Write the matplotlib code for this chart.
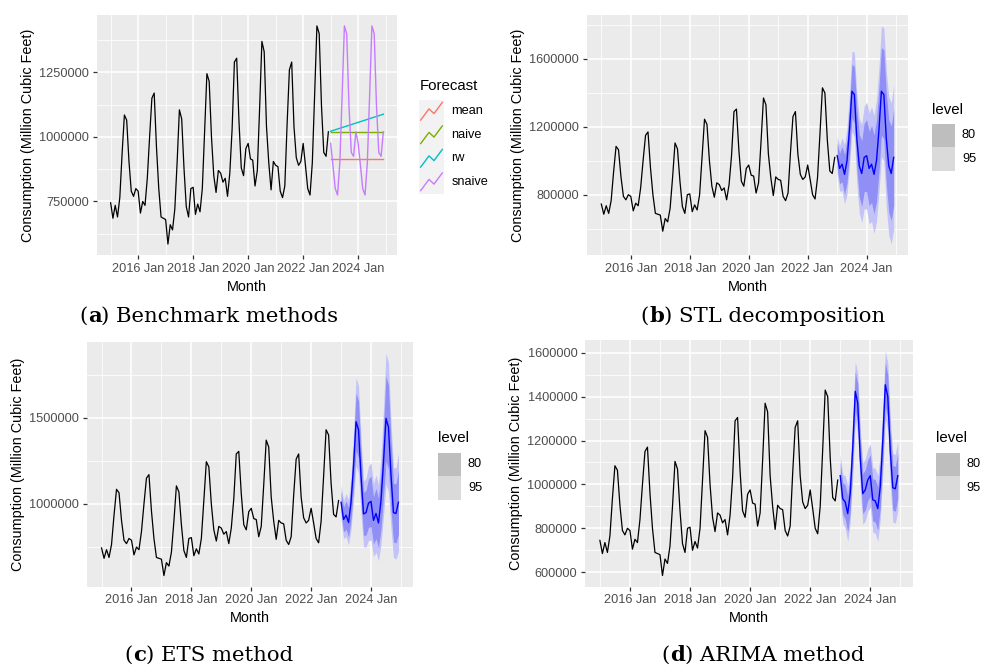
import numpy as np
import matplotlib
matplotlib.use("Agg")
import matplotlib.pyplot as plt
from matplotlib.patches import Rectangle

plt.rcParams['font.family'] = ['Liberation Sans', 'DejaVu Sans']

W, H = 982, 667

# ---------------- data (thousand million cubic feet) ----------------
y2015 = [745, 685, 735, 690, 765, 935, 1085, 1065, 905, 790, 770, 800]
y2016 = [790, 705, 750, 735, 840, 1000, 1150, 1170, 960, 800, 690, 685]
y2017 = [680, 585, 660, 640, 720, 900, 1105, 1070, 880, 730, 690, 800]
y2018 = [805, 700, 740, 710, 800, 1020, 1245, 1215, 1000, 850, 785, 870]
y2019 = [860, 825, 840, 770, 860, 1030, 1290, 1305, 1060, 880, 850, 955]
y2020 = [975, 915, 910, 810, 870, 1110, 1370, 1330, 1040, 900, 795, 905]
y2021 = [890, 885, 790, 765, 810, 1050, 1260, 1290, 1040, 920, 890, 905]
y2022 = [975, 890, 800, 775, 900, 1160, 1430, 1400, 1120, 940, 925, 1020]

# benchmark forecasts (panel a)
mean_level = 915
naive_level = 1020
rw_ends = [1022, 1088]

# STL forecast (panel b)
stl_fc = [1030, 955, 980, 920, 1000, 1180, 1410, 1390, 1130, 970, 925, 1020,
          1030, 955, 980, 920, 1000, 1180, 1410, 1390, 1130, 970, 925, 1020]
stl_hw80 = [74, 90, 104, 117, 130, 144, 158, 167, 177, 186, 194, 202,
            211, 219, 226, 233, 240, 248, 257, 263, 268, 273, 278, 284]
stl_hw95 = [110, 135, 155, 175, 195, 215, 235, 250, 265, 278, 290, 302,
            315, 327, 338, 348, 358, 370, 385, 393, 400, 408, 416, 424]

# ETS forecast (panel c)
ets_fc = [1010, 910, 935, 893, 1010, 1220, 1477, 1430, 1160, 942, 950, 1005,
          1015, 905, 945, 890, 1020, 1240, 1496, 1445, 1170, 950, 945, 1010]
ets_hw80 = [63, 72, 82, 85, 101, 127, 166, 166, 143, 124, 130, 140,
            146, 137, 146, 143, 166, 202, 247, 244, 202, 169, 172, 185]
ets_hw95 = [97, 110, 125, 130, 155, 195, 255, 255, 220, 190, 200, 215,
            225, 210, 225, 220, 255, 310, 380, 375, 310, 260, 265, 285]

# ARIMA forecast (panel d)
arima_fc = [1040, 935, 920, 867, 960, 1170, 1424, 1370, 1120, 958, 975, 1020,
            1040, 930, 925, 890, 990, 1200, 1454, 1400, 1150, 985, 980, 1040]
arima_hw80 = [62, 72, 78, 83, 85, 86, 88, 89, 90, 91, 92, 93,
              95, 96, 97, 98, 98, 99, 100, 100, 101, 102, 102, 103]
arima_hw95 = [95, 110, 120, 127, 130, 132, 135, 137, 139, 140, 141, 142,
              145, 147, 148, 150, 151, 152, 153, 154, 155, 156, 157, 158]

tick_years = [2016, 2018, 2020, 2022, 2024]
tick_labels = ["2016 Jan", "2018 Jan", "2020 Jan", "2022 Jan", "2024 Jan"]
method_names = ["mean", "naive", "rw", "snaive"]
method_colors = ["#F8766D", "#7CAE00", "#00BFC4", "#C77CFF"]
level_names = ["80", "95"]
level_key_colors = ["#BEBEBE", "#DADADA"]
captions = [("a", " Benchmark methods"), ("b", " STL decomposition"),
            ("c", " ETS method"), ("d", " ARIMA method")]

SCALE = 1000
hist = np.array(y2015 + y2016 + y2017 + y2018 + y2019 + y2020 + y2021 + y2022) * SCALE
x_hist = 2015 + np.arange(len(hist)) / 12.0
x_fc = 2023 + np.arange(24) / 12.0

BAND95 = "#C3C3F8"
BAND80 = "#8F8FF6"

fig = plt.figure(figsize=(W / 100, H / 100), dpi=100)


def px_axes(x0, y0, x1, y1):
    return fig.add_axes([x0 / W, 1 - y1 / H, (x1 - x0) / W, (y1 - y0) / H])


def style(ax, ymajor, yminor, lo, hi):
    ax.set_facecolor('#EBEBEB')
    for s in ax.spines.values():
        s.set_visible(False)
    x0, x1 = 2015.0, 2024 + 11 / 12
    ex = (x1 - x0) * 0.05
    ax.set_xlim(x0 - ex, x1 + ex)
    ey = (hi - lo) * 0.05
    ax.set_ylim(lo - ey, hi + ey)
    ax.set_xticks(tick_years)
    ax.set_xticklabels(tick_labels)
    ax.set_xticks([2015, 2017, 2019, 2021, 2023, 2025], minor=True)
    ax.set_yticks(ymajor)
    ax.set_yticklabels([str(int(v)) for v in ymajor])
    ax.set_yticks(yminor, minor=True)
    ax.grid(which='major', color='white', lw=1.1)
    ax.grid(which='minor', color='white', lw=0.55)
    ax.set_axisbelow(True)
    ax.tick_params(which='major', length=3, width=0.9, color='#333333',
                   labelsize=9.2, labelcolor='#4D4D4D', pad=2.5)
    ax.tick_params(which='minor', length=0)
    ax.set_xlabel('Month', fontsize=10.4, labelpad=3.5)
    ax.set_ylabel('Consumption (Million Cubic Feet)', fontsize=10.4, labelpad=3)


# ---------------- panel a ----------------
axa = px_axes(97, 15, 397, 255)
axa.plot(x_hist, hist, color='black', lw=0.9)
axa.plot([x_fc[0], x_fc[-1]], [mean_level * SCALE] * 2, color=method_colors[0], lw=1.0)
axa.plot([x_fc[0], x_fc[-1]], [naive_level * SCALE] * 2, color=method_colors[1], lw=1.0)
axa.plot([x_fc[0], x_fc[-1]], np.array(rw_ends) * SCALE, color=method_colors[2], lw=1.0)
snaive = np.concatenate([hist[-12:], hist[-12:]])
axa.plot(x_fc, snaive, color=method_colors[3], lw=1.0)
style(axa, [750000, 1000000, 1250000], [625000, 875000, 1125000, 1375000],
      hist.min(), hist.max())


def band_panel(ax, fc, hw80, hw95, ymajor, yminor):
    fc = np.array(fc) * SCALE
    h80 = np.array(hw80) * SCALE
    h95 = np.array(hw95) * SCALE
    ax.plot(x_hist, hist, color='black', lw=0.9)
    ax.fill_between(x_fc, fc - h95, fc + h95, color=BAND95, lw=0)
    ax.fill_between(x_fc, fc - h80, fc + h80, color=BAND80, lw=0)
    ax.plot(x_fc, fc, color='#0000FF', lw=1.0)
    lo = min(hist.min(), (fc - h95).min())
    hi = max(hist.max(), (fc + h95).max())
    style(ax, ymajor, yminor, lo, hi)


axb = px_axes(586.7, 15, 908.3, 255)
band_panel(axb, stl_fc, stl_hw80, stl_hw95, [800000, 1200000, 1600000],
           [600000, 1000000, 1400000, 1800000])

axc = px_axes(86.7, 341.7, 413.3, 586.7)
band_panel(axc, ets_fc, ets_hw80, ets_hw95, [1000000, 1500000],
           [750000, 1250000, 1750000])

axd = px_axes(585, 340, 912.7, 586.7)
band_panel(axd, arima_fc, arima_hw80, arima_hw95,
           [600000, 800000, 1000000, 1200000, 1400000, 1600000],
           [700000, 900000, 1100000, 1300000, 1500000])

# ---------------- overlay for legends and captions ----------------
ov = fig.add_axes([0, 0, 1, 1])
ov.set_xlim(0, W)
ov.set_ylim(H, 0)
ov.axis('off')
ov.patch.set_alpha(0)

# Forecast legend (panel a)
ov.text(420, 86, "Forecast", fontsize=10.8, va='center', ha='left', color='black')
key_h = 23.5
for i, (name, col) in enumerate(zip(method_names, method_colors)):
    ky = 99.5 + i * key_h
    ov.add_patch(Rectangle((419, ky), 25, key_h, facecolor='#F2F2F2', edgecolor='none'))
    zx = [0.05, 0.4, 0.6, 0.95]
    zy = [0.1, 0.6, 0.4, 0.9]
    ov.plot([419 + 25 * v for v in zx], [ky + key_h - key_h * v for v in zy],
            color=col, lw=1.0, solid_capstyle='butt')
    ov.text(451.5, ky + key_h / 2, name, fontsize=9.2, va='center', ha='left', color='black')


def level_legend(x, ytitle, ykey):
    ov.text(x, ytitle, "level", fontsize=10.8, va='center', ha='left', color='black')
    for i, (name, col) in enumerate(zip(level_names, level_key_colors)):
        ky = ykey + i * 23.5
        ov.add_patch(Rectangle((x, ky), 23.5, 23.5, facecolor=col, edgecolor='none'))
        ov.text(x + 30, ky + 11.75, name, fontsize=9.2, va='center', ha='left', color='black')


level_legend(932, 110, 123.5)
level_legend(438, 438, 452.5)
level_legend(936.5, 438, 452.5)

# captions
renderer = fig.canvas.get_renderer()


def caption(cx, baseline, letter, rest):
    parts = [("(", 'normal'), (letter, 'bold'), (")" + rest, 'normal')]
    texts = [ov.text(0, baseline, s, fontsize=15.3, family='DejaVu Serif',
                     weight=wgt, va='baseline', ha='left', color='black')
             for s, wgt in parts]
    widths = [t.get_window_extent(renderer).width for t in texts]
    x = cx - sum(widths) / 2
    for t, w in zip(texts, widths):
        t.set_x(x)
        x += w


caption(209, 322, *captions[0])
caption(763, 322, *captions[1])
caption(209, 661, *captions[2])
caption(763, 661, *captions[3])

fig.savefig("out.png", dpi=100)
